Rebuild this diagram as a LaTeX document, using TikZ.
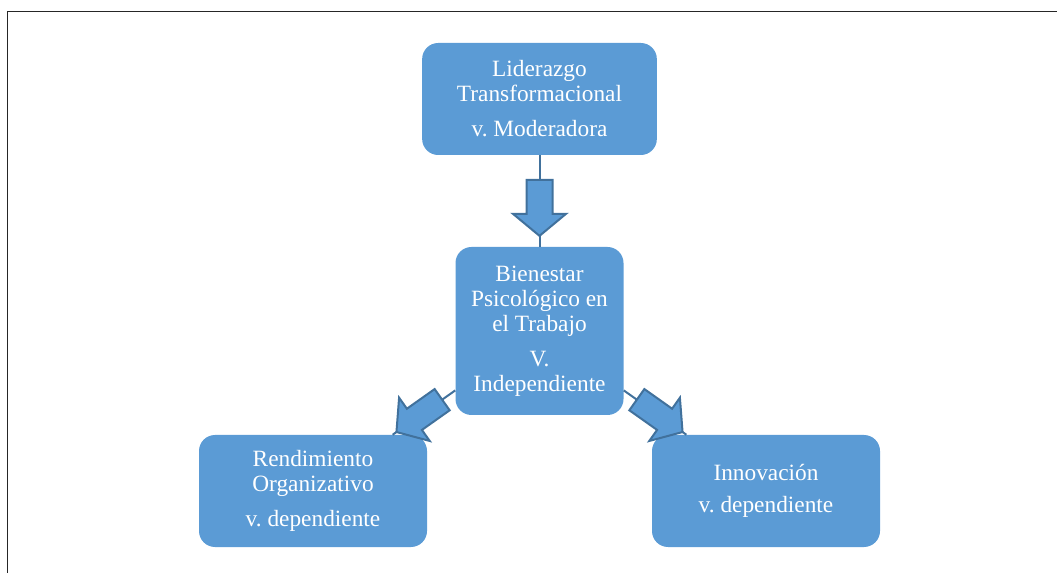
\documentclass[tikz,border=0pt]{standalone}
\usepackage{fontspec}
\setmainfont{Liberation Serif}
\usepackage{tikz}
\usetikzlibrary{decorations.markings}
\definecolor{boxblue}{HTML}{5B9BD5}
\definecolor{edgeblue}{HTML}{41719C}
\definecolor{framegray}{HTML}{262626}
\frenchspacing

\begin{document}
\begin{tikzpicture}[x=0.75pt,y=-0.75pt,
  varbox/.style={fill=boxblue, rounded corners=12pt, text=white, align=center,
    inner sep=0pt, font=\fontsize{17.5}{18.75}\selectfont},
  blockarrow/.style={draw=edgeblue, line width=1.5pt,
    postaction={decorate, decoration={markings, mark=at position 0.575 with
      {\draw[fill=boxblue, draw=edgeblue, line width=1.5pt, line join=miter]
        (-28,-13) -- (6,-13) -- (6,-26.5) -- (28,0) -- (6,26.5) -- (6,13) -- (-28,13) -- cycle;}}}}]
\useasboundingbox (0,0) rectangle (1057,573);
\draw[framegray, line width=0.8pt] (7.5,573) -- (7.5,11.5) -- (1057,11.5);

\node[varbox, minimum width=176pt, minimum height=84pt] (lider) at (539.5,99)
  {Liderazgo\\Transformacional\\[7.5pt]v. Moderadora};
\node[varbox, minimum width=126pt, minimum height=126pt] (bien) at (539.5,331)
  {Bienestar\\Psicológico en\\el Trabajo\\[7.5pt]V.\\Independiente};
\node[varbox, minimum width=171pt, minimum height=84pt] (rend) at (313,491)
  {Rendimiento\\Organizativo\\[7.5pt]v. dependiente};
\node[varbox, minimum width=171pt, minimum height=84pt] (innov) at (766,491)
  {Innovación\\[5pt]v. dependiente};

\draw[blockarrow] (lider) -- (bien);
\draw[blockarrow] (bien) -- (rend);
\draw[blockarrow] (bien) -- (innov);
\end{tikzpicture}
\end{document}
